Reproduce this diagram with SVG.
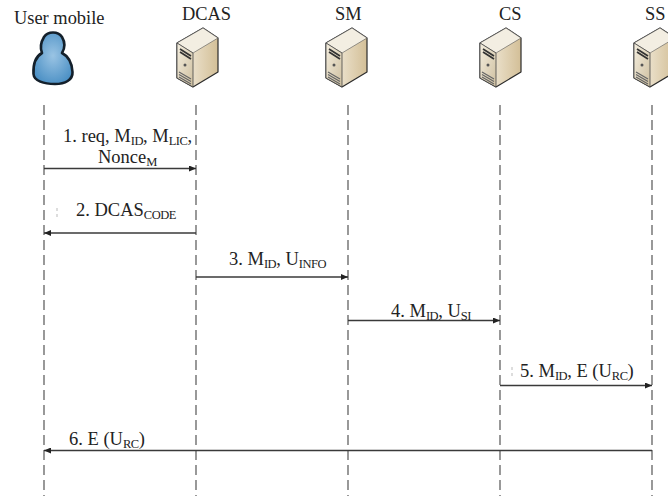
<svg xmlns="http://www.w3.org/2000/svg" width="668" height="496" viewBox="0 0 668 496">
<style>
text{font-family:"Liberation Serif","Times New Roman",serif;fill:#222;font-size:18.5px}
.t{font-size:18.4px}
.s{font-size:12.5px;letter-spacing:-.5px}
.life{fill:none;stroke:#6e6e6e;stroke-width:1.4;stroke-dasharray:10 5}
.msg{fill:none;stroke:#3a3a3a;stroke-width:1.3}
</style>
<defs>
<marker id="a" markerWidth="8" markerHeight="6" refX="7" refY="3" orient="auto" markerUnits="userSpaceOnUse"><path d="M0 0L7 3L0 6z" fill="#222"/></marker>
<linearGradient id="side" x1="0" y1="0" x2="1" y2="0"><stop offset="0" stop-color="#f8f3e8"/><stop offset="1" stop-color="#d3bf97"/></linearGradient>
<linearGradient id="front" x1="0" y1="0" x2="1" y2="1"><stop offset="0" stop-color="#f4eedf"/><stop offset="1" stop-color="#cfc0a0"/></linearGradient>
<radialGradient id="body" cx=".5" cy=".45" r=".6"><stop offset="0" stop-color="#9ac4e4"/><stop offset="1" stop-color="#4a8fc4"/></radialGradient>
<g id="srv">
<path d="M0 15L26 0L41 10V44L16 59L0 50z" fill="url(#side)" stroke="#2b2b2b" stroke-width="1.2" stroke-linejoin="round"/>
<path d="M0 15L26 0L41 10L16 25z" fill="#f3eee2" stroke="#555" stroke-width=".6" stroke-linejoin="round"/>
<path d="M0 15L16 25V59L0 50z" fill="url(#front)" stroke="#444" stroke-width=".8" stroke-linejoin="round"/>
<path d="M3 21L14 28M3 24L14 31" stroke="#333" stroke-width="1.7" fill="none"/>
<circle cx="8" cy="37" r="1.5" fill="#555"/>
<path d="M2 44L14 51M2 46.500L14 53.500M2 49L14 56" stroke="#666" stroke-width="1.200" fill="none"/>
</g>
</defs>
<rect width="668" height="496" fill="#fff"/>
<g id="connectors">
<path class="life" d="M44 105V496"/>
<path class="life" d="M196 105V496"/>
<path class="life" d="M348 105V496"/>
<path class="life" d="M500 105V496"/>
<path class="life" d="M652 105V496"/>
<path class="msg" d="M44 168.500H196" marker-end="url(#a)"/>
<path class="msg" d="M196 233H44" marker-end="url(#a)"/>
<path class="msg" d="M196 277H348" marker-end="url(#a)"/>
<path class="msg" d="M348 320.500H500" marker-end="url(#a)"/>
<path class="msg" d="M500 385.500H652" marker-end="url(#a)"/>
<path class="msg" d="M652 450.500H44" marker-end="url(#a)"/>
<path d="M57 208V211M57 214V217M512 367V370M512 373V376" stroke="#bbb" stroke-width="1" fill="none"/>
</g>
<g id="user-mobile">
<text class="t" x="14" y="24">User mobile</text>
<path d="M42 53C35 57 33 65 33.500 74C34 81 44 84 55 84C65 84 73 80 72.500 72C72 63 68 56 62 53C65 48 65 42 62 37C58 31 48 31 44 37C41 42 40 48 42 53z" fill="url(#body)" stroke="#14202b" stroke-width="2.600" stroke-linejoin="round"/>
</g>
<g id="dcas">
<text class="t" x="182" y="20">DCAS</text>
<use href="#srv" x="177" y="28"/>
</g>
<g id="sm">
<text class="t" x="335" y="20">SM</text>
<use href="#srv" x="326" y="28"/>
</g>
<g id="cs">
<text class="t" x="499" y="20">CS</text>
<use href="#srv" x="480" y="28"/>
</g>
<g id="ss">
<text class="t" x="645" y="20">SS</text>
<use href="#srv" x="634" y="28"/>
</g>
<g id="labels">
<text x="63" y="142">1. req, M<tspan class="s" dy="3">ID</tspan><tspan dy="-3">, M</tspan><tspan class="s" dy="3">LIC</tspan><tspan dy="-3">,</tspan></text>
<text x="98" y="163">Nonce<tspan class="s" dy="3">M</tspan></text>
<text x="76" y="216">2. DCAS<tspan class="s" dy="3">CODE</tspan></text>
<text x="229" y="265">3. M<tspan class="s" dy="3">ID</tspan><tspan dy="-3">, U</tspan><tspan class="s" dy="3">INFO</tspan></text>
<text x="391" y="317">4. M<tspan class="s" dy="3">ID</tspan><tspan dy="-3">, U</tspan><tspan class="s" dy="3">SI</tspan></text>
<text x="520" y="377">5. M<tspan class="s" dy="3">ID</tspan><tspan dy="-3">, E (U</tspan><tspan class="s" dy="3">RC</tspan><tspan dy="-3">)</tspan></text>
<text x="69" y="445">6. E (U<tspan class="s" dy="3">RC</tspan><tspan dy="-3">)</tspan></text>
</g>
</svg>
